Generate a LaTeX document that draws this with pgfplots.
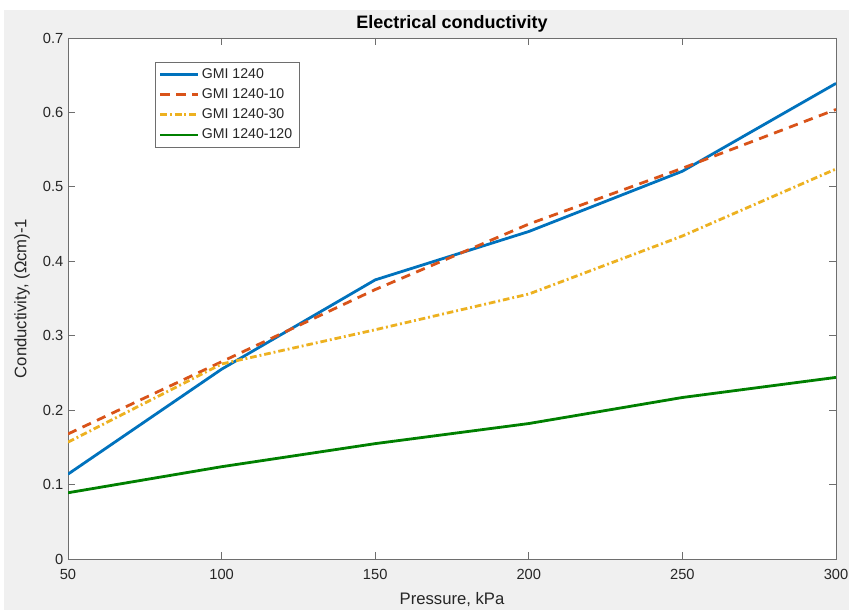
\documentclass[border=0pt]{standalone}
\usepackage{fontspec}
\setmainfont{Liberation Sans}
\usepackage{pgfplots}
\pgfplotsset{compat=1.18}
\definecolor{figbg}{RGB}{240,240,240}
\definecolor{txt}{RGB}{38,38,38}
\definecolor{axc}{RGB}{110,110,110}
\definecolor{mblue}{RGB}{0,114,189}
\definecolor{morange}{RGB}{217,83,25}
\definecolor{myellow}{RGB}{237,177,32}
\definecolor{mgreen}{RGB}{0,128,0}
\begin{document}
\begin{tikzpicture}
\useasboundingbox (0pt,0pt) rectangle (636.75pt,457.5pt);
\fill[white] (0pt,0pt) rectangle (636.75pt,457.5pt);
\fill[figbg] (3pt,0pt) rectangle (636.75pt,450pt);
\begin{axis}[
  at={(51pt,38.25pt)}, anchor=south west,
  scale only axis, width=576pt, height=390.75pt,
  xmin=50, xmax=300, ymin=0, ymax=0.7,
  xtick={50,100,...,300}, ytick={0,0.1,...,0.7},
  yticklabel style={/pgf/number format/fixed, /pgf/number format/precision=1},
  /pgf/number format/assume math mode=true,
  tick align=inside, major tick length=5pt,
  axis background/.style={fill=white},
  axis line style={axc, line width=0.6pt},
  every tick/.style={axc, line width=0.6pt},
  tick label style={font=\fontsize{11}{13}\selectfont, text=txt},
  xticklabel style={yshift=-4.5pt},
  title={\bfseries Electrical conductivity},
  every axis title/.style={at={(axis description cs:0.5,1)}, anchor=center, yshift=10.5pt, font=\fontsize{13.5}{15}\selectfont, text=black},
  xlabel={Pressure, kPa},
  ylabel={Conductivity, (Ωcm)-1},
  every axis x label/.style={at={(axis description cs:0.5,0)}, anchor=center, yshift=-30.75pt, font=\fontsize{12.5}{14}\selectfont, text=txt},
  every axis y label/.style={at={(axis description cs:0,0.5)}, xshift=-34.5pt, anchor=center, rotate=90, font=\fontsize{12.5}{14}\selectfont, text=txt},
  legend style={at={(0.113,0.954)}, anchor=north west, draw=axc, fill=white,
    font=\fontsize{10.6}{12}\selectfont, text=txt, row sep=2.3pt, inner xsep=3pt, inner ysep=2.5pt},
  legend cell align=left,
  legend image code/.code={\draw[#1] (0pt,0pt) -- (28pt,0pt);},
]
\addplot[mblue, line width=2.1pt] coordinates {(50,0.114)(100,0.255)(150,0.375)(200,0.440)(250,0.521)(300,0.639)};
\addlegendentry{GMI 1240}
\addplot[morange, line width=2.1pt, dash pattern=on 7pt off 5pt] coordinates {(50,0.168)(100,0.265)(150,0.362)(200,0.450)(250,0.525)(300,0.604)};
\addlegendentry{GMI 1240-10}
\addplot[myellow, line width=2.1pt, dash pattern=on 5pt off 2.2pt on 1.4pt off 2.2pt] coordinates {(50,0.157)(100,0.262)(150,0.308)(200,0.356)(250,0.434)(300,0.524)};
\addlegendentry{GMI 1240-30}
\addplot[mgreen, line width=2.1pt] coordinates {(50,0.089)(100,0.124)(150,0.155)(200,0.182)(250,0.217)(300,0.244)};
\addlegendentry{GMI 1240-120}
\end{axis}
\end{tikzpicture}
\end{document}
